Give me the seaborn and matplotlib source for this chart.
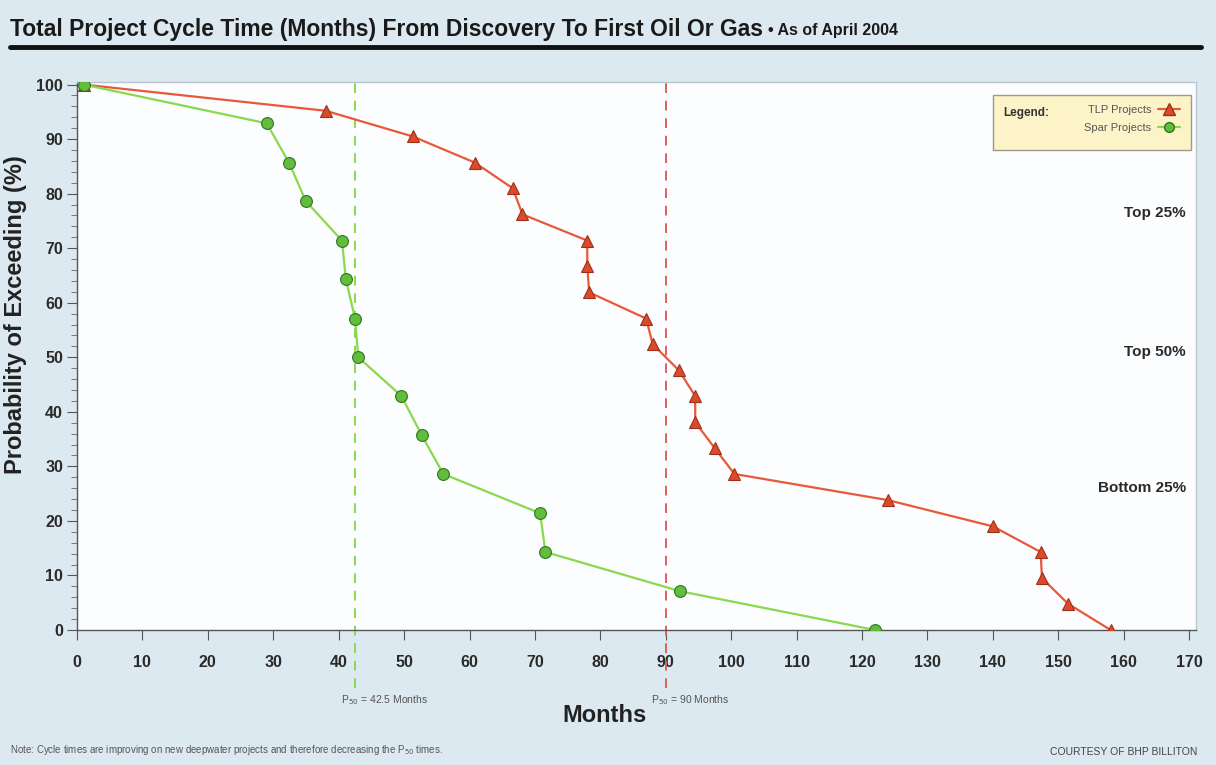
import matplotlib
matplotlib.use("Agg")
import matplotlib.pyplot as plt
from matplotlib.lines import Line2D
from matplotlib.patches import Rectangle
from matplotlib.ticker import MultipleLocator
import seaborn as sns
import pandas as pd

# data
spar_months = [1, 29, 32.4, 35, 40.5, 41.1, 42.5, 43, 49.6, 52.7, 56, 70.8, 71.6, 92.2, 122]
spar_prob = [100, 92.9, 85.7, 78.6, 71.4, 64.3, 57.1, 50, 42.9, 35.7, 28.6, 21.4, 14.3, 7.1, 0]

tlp_months = [1, 38, 51.3, 60.8, 66.6, 68.1, 78, 78, 78.3, 87, 88, 92, 94.5, 94.5,
              97.5, 100.5, 124, 140, 147.3, 147.5, 151.5, 158]
tlp_prob = [100, 95.2, 90.5, 85.7, 81, 76.2, 71.4, 66.7, 61.9, 57.1, 52.4, 47.6, 42.9,
            38.1, 33.3, 28.6, 23.8, 19, 14.3, 9.5, 4.8, 0]

p50_spar = 42.5
p50_tlp = 90
band_labels = ["Top 25%", "Top 50%", "Bottom 25%"]
band_y = [76.5, 51, 26]

sns.set_style("ticks")
plt.rcParams['font.family'] = ['Liberation Sans', 'DejaVu Sans']

spar = pd.DataFrame({"Months": spar_months, "Prob": spar_prob})
tlp = pd.DataFrame({"Months": tlp_months, "Prob": tlp_prob})

red_line, red_face, red_edge = "#e8583a", "#dc4a2c", "#9e3018"
grn_line, grn_face, grn_edge = "#8ad84c", "#62bd3c", "#2f7424"

fig = plt.figure(figsize=(12.16, 7.65), dpi=100, facecolor="#dde9f1")
ax = fig.add_axes([0.0633, 0.1765, 0.920, 0.7165])
ax.set_facecolor("#fcfdfe")

sns.lineplot(data=tlp, x="Months", y="Prob", ax=ax, estimator=None, sort=False,
             color=red_line, linewidth=1.6, marker="^", markersize=9,
             markerfacecolor=red_face, markeredgecolor=red_edge, markeredgewidth=0.8, zorder=3)
sns.lineplot(data=spar, x="Months", y="Prob", ax=ax, estimator=None, sort=False,
             color=grn_line, linewidth=1.6, marker="o", markersize=8.5,
             markerfacecolor=grn_face, markeredgecolor=grn_edge, markeredgewidth=0.8, zorder=4)

ax.set_xlim(0, 171)
ax.set_ylim(0, 100.5)
ax.xaxis.set_major_locator(MultipleLocator(10))
ax.yaxis.set_major_locator(MultipleLocator(10))
ax.yaxis.set_minor_locator(MultipleLocator(2))
ax.tick_params(axis="both", which="major", length=7, width=0.8, color="#555555",
               labelsize=11.5)
ax.tick_params(axis="x", which="major", pad=11)
ax.tick_params(axis="y", which="major", pad=3)
ax.tick_params(axis="y", which="minor", length=4, width=0.7, color="#777777")
for lab in ax.get_xticklabels() + ax.get_yticklabels():
    lab.set_fontweight("bold")
    lab.set_color("#2a2a2a")

for side in ["left", "bottom"]:
    ax.spines[side].set_color("#555555")
    ax.spines[side].set_linewidth(1.0)
for side in ["top", "right"]:
    ax.spines[side].set_visible(True)
    ax.spines[side].set_color("#b9c6d0")
    ax.spines[side].set_linewidth(1.0)

ax.set_xlabel("")
ax.set_ylabel("Probability of Exceeding (%)", fontsize=17, fontweight="bold",
              color="#222222")
ax.yaxis.set_label_coords(-0.045, 0.575)

# P50 markers
ax.axvline(p50_spar, ymin=-0.105, ymax=1, color=grn_line, linestyle=(0, (5, 4)),
           linewidth=1.4, clip_on=False, zorder=2)
ax.axvline(p50_tlp, ymin=-0.105, ymax=1, color="#e0605a", linestyle=(0, (5, 4)),
           linewidth=1.4, clip_on=False, zorder=2)
ax.text(p50_spar - 2.2, -12.8, r"P$_{50}$ = 42.5 Months", fontsize=7.5, color="#555555",
        ha="left", va="center", clip_on=False)
ax.text(p50_tlp - 2.2, -12.8, r"P$_{50}$ = 90 Months", fontsize=7.5, color="#555555",
        ha="left", va="center", clip_on=False)

for lab, yv in zip(band_labels, band_y):
    ax.text(169.5, yv, lab, ha="right", va="center", fontsize=11, fontweight="bold",
            color="#2a2a2a")

# legend box
ax.add_patch(Rectangle((0.819, 0.876), 0.177, 0.100, transform=ax.transAxes,
                       facecolor="#fcf4c8", edgecolor="#9a9a8a", linewidth=1.0, zorder=5))
ax.text(0.828, 0.944, "Legend:", transform=ax.transAxes, fontsize=8.5, fontweight="bold",
        color="#333333", ha="left", va="center", zorder=6)
handles = [
    Line2D([], [], color=red_line, lw=1.6, marker="^", markersize=8,
           markerfacecolor=red_face, markeredgecolor=red_edge),
    Line2D([], [], color=grn_line, lw=1.6, marker="o", markersize=7,
           markerfacecolor=grn_face, markeredgecolor=grn_edge),
]
leg = ax.legend(handles, ["TLP Projects", "Spar Projects"], loc="upper right",
                bbox_to_anchor=(0.996, 0.978), frameon=False, markerfirst=False,
                fontsize=8, handlelength=2.0, labelspacing=0.75, borderpad=0.5,
                handletextpad=0.6, labelcolor="#555555")
leg.set_zorder(7)

# x label and notes
fig.text(0.497, 0.065, "Months", ha="center", va="center", fontsize=17,
         fontweight="bold", color="#222222")
fig.text(0.008, 0.010, r"Note: Cycle times are improving on new deepwater projects and therefore decreasing the P$_{50}$ times.",
         fontsize=7, color="#555555", ha="left", va="bottom")
fig.text(0.985, 0.010, "COURTESY OF BHP BILLITON", fontsize=7.5, color="#444444",
         ha="right", va="bottom")

# title with rule
t1 = fig.text(0.008, 0.962, "Total Project Cycle Time (Months) From Discovery To First Oil Or Gas",
              fontsize=16.5, fontweight="bold", color="#1a1a1a", ha="left", va="center")
renderer = fig.canvas.get_renderer()
bb = t1.get_window_extent(renderer=renderer)
fig.text(bb.x1 / fig.bbox.width + 0.004, 0.960, "\u2022 As of April 2004", fontsize=11.5,
         fontweight="bold", color="#1a1a1a", ha="left", va="center")
fig.add_artist(Line2D([0.008, 0.988], [0.938, 0.938], transform=fig.transFigure,
                      color="#111111", linewidth=3.5))

fig.savefig("out.png", dpi=100, facecolor=fig.get_facecolor())
